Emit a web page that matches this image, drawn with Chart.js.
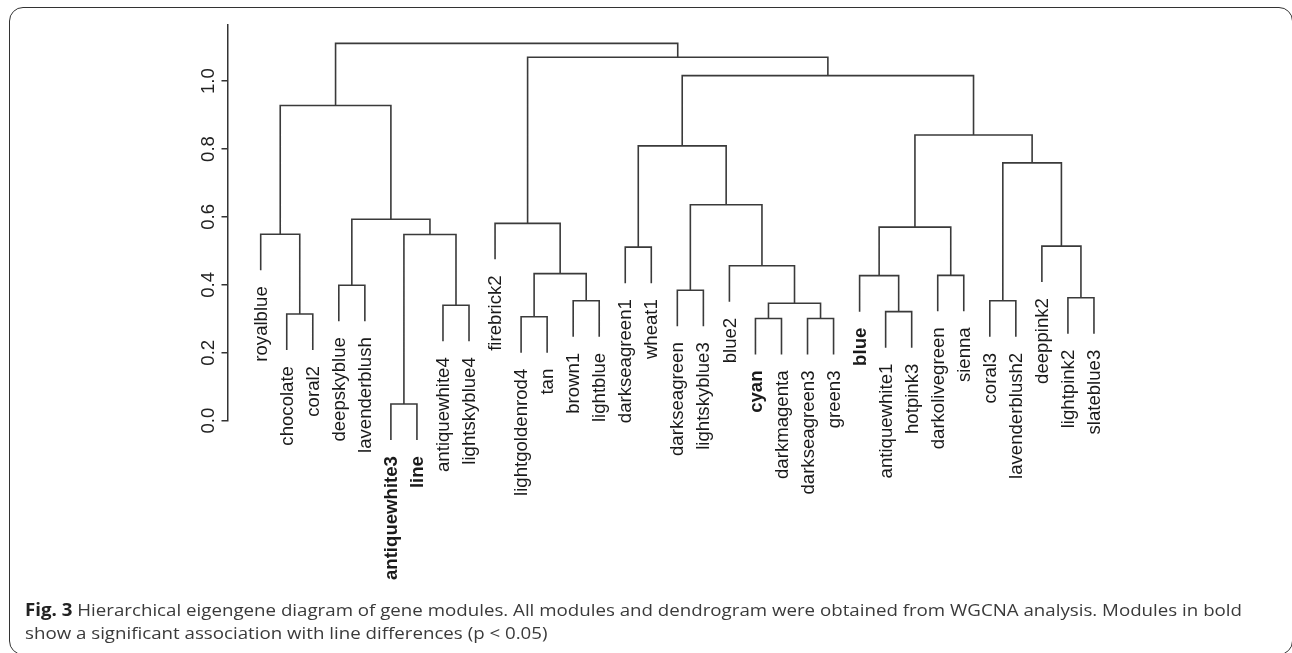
<!DOCTYPE html>
<html>
<head>
<meta charset="utf-8">
<script src="https://cdn.jsdelivr.net/npm/chart.js@4"></script>
<style>
  html, body { margin: 0; padding: 0; background: #fff; }
  #wrap { position: relative; width: 1292px; height: 653px; overflow: hidden; }
  #frame { position: absolute; left: 9px; top: 7px; width: 1284px; height: 648px;
           border: 1.5px solid #333; border-radius: 14px; box-sizing: border-box; }
  canvas { position: absolute; left: 0; top: 0; }
  .cap { position: absolute; left: 25px; font: 17px "Open Sans", sans-serif; color: #3a3a3a;
         line-height: 23px; white-space: nowrap; transform-origin: 0 0; }
  .cap b { color: #222; }
</style>
</head>
<body>
<div id="wrap">
  <div id="frame"></div>
  <canvas id="tree" width="1292" height="653"></canvas>
  <div class="cap" id="cap1" style="top:598px"><b>Fig. 3</b> Hierarchical eigengene diagram of gene modules. All modules and dendrogram were obtained from WGCNA analysis. Modules in bold</div>
  <div class="cap" id="cap2" style="top:621px">show a significant association with line differences (p &lt; 0.05)</div>
</div>
<script>
// leaves in plotting order
const leaves = ["royalblue", "chocolate", "coral2", "deepskyblue", "lavenderblush",
  "antiquewhite3", "line", "antiquewhite4", "lightskyblue4", "firebrick2",
  "lightgoldenrod4", "tan", "brown1", "lightblue", "darkseagreen1", "wheat1",
  "darkseagreen", "lightskyblue3", "blue2", "cyan", "darkmagenta", "darkseagreen3",
  "green3", "blue", "antiquewhite1", "hotpink3", "darkolivegreen", "sienna",
  "coral3", "lavenderblush2", "deeppink2", "lightpink2", "slateblue3"];
const boldLeaves = ["antiquewhite3", "line", "cyan", "blue"];

// hclust style merges: negative = leaf (1-based), positive = earlier merge row
const mergeLeft  = [-6, -20, -22, -11, -2, -25, -8, 2, -13, -29, -32, -17, -4, -24, -27, 4,
                    -19, -15, -31, 1, -1, 14, -10, 13, 12, 10, 18, 22, 21, 27, 23, 29];
const mergeRight = [-7, -21, -23, -12, -3, -26, -9, 3, -14, -30, -33, -18, -5, 6, -28, 9,
                    8, -16, 11, 7, 5, 15, 16, 20, 17, 19, 25, 26, 24, 28, 30, 31];
const mergeHeight = [0.049, 0.301, 0.301, 0.306, 0.314, 0.321, 0.340, 0.346, 0.353, 0.353,
                     0.362, 0.384, 0.399, 0.427, 0.428, 0.433, 0.456, 0.511, 0.514, 0.548,
                     0.549, 0.570, 0.581, 0.593, 0.636, 0.759, 0.809, 0.841, 0.928, 1.016,
                     1.070, 1.111];
const yTicks = [0, 0.2, 0.4, 0.6, 0.8, 1.0];
const hang = 0.106;

// build the U shaped links
const nodeX = [], nodeH = [];
const leafBottom = [];
const segments = [];
mergeHeight.forEach((h, k) => {
  const ends = [mergeLeft[k], mergeRight[k]].map(ref => {
    if (ref < 0) {
      const i = -ref - 1;
      leafBottom[i] = h - hang;
      return { x: i, y: h - hang };
    }
    return { x: nodeX[ref - 1], y: nodeH[ref - 1] };
  });
  nodeX[k] = (ends[0].x + ends[1].x) / 2;
  nodeH[k] = h;
  segments.push({ x: ends[0].x, y: ends[0].y }, { x: ends[0].x, y: h },
                { x: ends[1].x, y: h }, { x: ends[1].x, y: ends[1].y },
                { x: ends[1].x, y: null });
});

const leafLabels = {
  id: "leafLabels",
  afterDatasetsDraw(chart) {
    const { ctx, scales: { x, y } } = chart;
    leaves.forEach((name, i) => {
      ctx.save();
      ctx.font = (boldLeaves.includes(name) ? "bold " : "") + '18.6px "Liberation Sans", Arial, sans-serif';
      ctx.fillStyle = "#1a1a1a";
      ctx.textAlign = "right";
      ctx.textBaseline = "middle";
      ctx.translate(x.getPixelForValue(i) + 1, y.getPixelForValue(leafBottom[i]) + 16);
      ctx.rotate(-Math.PI / 2);
      ctx.fillText(name, 0, 0);
      ctx.restore();
    });
  }
};

new Chart(document.getElementById("tree"), {
  type: "scatter",
  data: {
    datasets: [{
      data: segments,
      showLine: true,
      spanGaps: false,
      borderColor: "#3a3a3a",
      borderWidth: 1.6,
      pointRadius: 0,
      clip: false
    }]
  },
  options: {
    responsive: false,
    animation: false,
    devicePixelRatio: 1,
    layout: { padding: { left: 187.5, top: 25, right: 172, bottom: 232.3 } },
    plugins: { legend: { display: false }, tooltip: { enabled: false } },
    scales: {
      x: { type: "linear", min: -1.275, max: 33, display: false },
      y: {
        type: "linear",
        min: 0,
        max: 1.165,
        afterBuildTicks: s => { s.ticks = yTicks.map(v => ({ value: v })); },
        afterFit: s => { s.width = 40; },
        border: { display: true, color: "#333", width: 1.5 },
        grid: { drawOnChartArea: false, drawTicks: true, tickLength: 6, color: "#333", lineWidth: 1.5 },
        ticks: {
          autoSkip: false,
          minRotation: 90,
          maxRotation: 90,
          crossAlign: "center",
          padding: 0,
          color: "#222",
          font: { family: '"Liberation Sans", Arial, sans-serif', size: 18.6 },
          callback: v => v.toFixed(1)
        }
      }
    }
  },
  plugins: [leafLabels]
});

// squeeze the caption to the width of the original
const cap1 = document.getElementById("cap1"), cap2 = document.getElementById("cap2");
const k = 1217 / cap1.getBoundingClientRect().width;
cap1.style.transform = cap2.style.transform = "scaleX(" + k + ")";
</script>
</body>
</html>
